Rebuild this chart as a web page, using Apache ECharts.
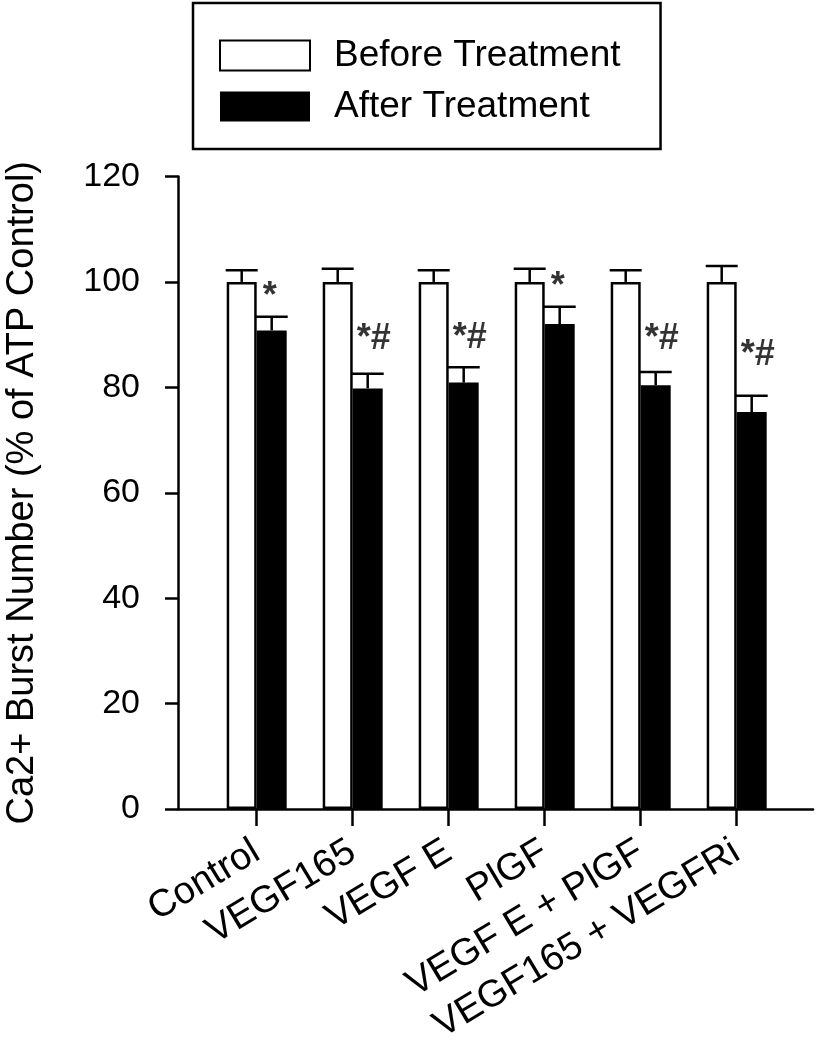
<!DOCTYPE html>
<html>
<head>
<meta charset="utf-8">
<script src="https://cdn.jsdelivr.net/npm/echarts@6/dist/echarts.min.js"></script>
<style>
  html, body { margin: 0; padding: 0; background: #fff; }
  #chart { width: 817px; height: 1050px; }
</style>
</head>
<body>
<div id="chart"></div>
<script>
// ---- data ----
const categories = ['Control', 'VEGF165', 'VEGF E', 'PlGF', 'VEGF E + PlGF', 'VEGF165 + VEGFRi'];
const beforeVals = [100, 100, 100, 100, 100, 100];
const afterVals  = [90.8, 79.8, 80.9, 92.0, 80.4, 75.3];
const beforeErr  = [2.2, 2.5, 2.2, 2.5, 2.2, 3.0];
const afterErr   = [2.6, 2.8, 2.9, 3.3, 2.5, 3.1];
const annotText  = ['*', '*#', '*#', '*', '*#', '*#'];
const annotY     = [97.2, 89.1, 89.3, 99.1, 89.1, 86.1];
const yMin = 0, yMax = 120, yStep = 20;
const seriesNames = ['Before Treatment', 'After Treatment'];

// ---- styling ----
const FONT = 'Liberation Sans, Arial, Helvetica, sans-serif';
const BAR_W = 30;
const CAP_HALF = 16;
const LINE_W = 2.5;
const GRID_TOP = 176.5, GRID_BOTTOM = 241;

const chart = echarts.init(document.getElementById('chart'), null, { renderer: 'canvas' });

function errorSeries(name, vals, errs, side) {
  return {
    name: name + ' err',
    type: 'custom',
    xAxisIndex: 1,
    yAxisIndex: 1,
    z: 5,
    silent: true,
    encode: { x: 0, y: 1 },
    data: vals.map((v, i) => [i, v, errs[i]]),
    renderItem: function (params, api) {
      const i = api.value(0), v = api.value(1), e = api.value(2);
      const p0 = api.coord([i, v]);
      const p1 = api.coord([i, v + e]);
      const x = p0[0] + side * BAR_W / 2;
      const st = { stroke: '#000', lineWidth: LINE_W };
      return {
        type: 'group',
        children: [
          { type: 'line', shape: { x1: x, y1: p0[1], x2: x, y2: p1[1] }, style: st },
          { type: 'line', shape: { x1: x - CAP_HALF, y1: p1[1], x2: x + CAP_HALF, y2: p1[1] }, style: st }
        ]
      };
    }
  };
}

const option = {
  animation: false,
  backgroundColor: '#fff',
  textStyle: { fontFamily: FONT, color: '#000' },
  legend: {
    data: seriesNames,
    orient: 'vertical',
    left: 193,
    top: 3,
    padding: [34, 40, 24, 26],
    itemWidth: 90,
    itemHeight: 30,
    itemGap: 14,
    icon: 'rect',
    borderColor: '#000',
    borderWidth: 2.5,
    backgroundColor: '#fff',
    textStyle: { fontFamily: FONT, fontSize: 37, color: '#000', lineHeight: 30, padding: [0, 0, 0, 19] },
    selectedMode: false
  },
  grid: [
    { left: 178, right: 4, top: GRID_TOP, bottom: GRID_BOTTOM, containLabel: false, outerBoundsMode: 'none' },
    { left: 208.7, width: 576, top: GRID_TOP, bottom: GRID_BOTTOM, containLabel: false, outerBoundsMode: 'none' }
  ],
  xAxis: [
    {
      gridIndex: 0, type: 'value', min: 0, max: 1,
      axisLine: { show: true, lineStyle: { color: '#000', width: LINE_W } },
      axisTick: { show: false }, axisLabel: { show: false }, splitLine: { show: false }
    },
    {
      gridIndex: 1, type: 'category', data: categories,
      axisLine: { show: false },
      axisTick: { show: true, alignWithLabel: true, inside: false, length: 17, lineStyle: { color: '#000', width: LINE_W } },
      axisLabel: { rotate: 31, margin: 40, fontSize: 38, fontFamily: FONT, color: '#000', interval: 0 },
      splitLine: { show: false }
    }
  ],
  yAxis: [
    {
      gridIndex: 0, type: 'value', min: yMin, max: yMax, interval: yStep,
      name: 'Ca2+ Burst Number (% of ATP Control)',
      nameLocation: 'middle', nameGap: 136, nameRotate: 90,
      nameTextStyle: { fontSize: 38, fontFamily: FONT, color: '#000' },
      axisLine: { show: true, lineStyle: { color: '#000', width: LINE_W } },
      axisTick: { show: true, inside: false, length: 13, lineStyle: { color: '#000', width: LINE_W } },
      axisLabel: { margin: 38, fontSize: 34, fontFamily: FONT, color: '#000' },
      splitLine: { show: false }
    },
    {
      gridIndex: 1, type: 'value', min: yMin, max: yMax, interval: yStep, show: false,
      splitLine: { show: false }
    }
  ],
  series: [
    {
      name: seriesNames[0], type: 'bar', xAxisIndex: 1, yAxisIndex: 1,
      data: beforeVals, barWidth: BAR_W, barGap: '0%',
      itemStyle: { color: '#fff', borderColor: '#000', borderWidth: 2.5 }
    },
    {
      name: seriesNames[1], type: 'bar', xAxisIndex: 1, yAxisIndex: 1,
      data: afterVals, barWidth: BAR_W, barGap: '0%',
      itemStyle: { color: '#000', borderColor: '#000', borderWidth: 0 }
    },
    errorSeries(seriesNames[0], beforeVals, beforeErr, -1),
    errorSeries(seriesNames[1], afterVals, afterErr, 1),
    {
      name: 'annotations', type: 'scatter', xAxisIndex: 1, yAxisIndex: 1,
      symbolSize: 1, itemStyle: { color: 'rgba(0,0,0,0)' }, silent: true, z: 6,
      data: annotY.map((y, i) => ({
        value: [i, y],
        label: {
          show: true, position: 'inside', formatter: annotText[i],
          offset: [BAR_W / 2 + (annotText[i].length > 1 ? 6 : -2), 0],
          fontSize: 36, fontWeight: 'bold', fontFamily: FONT, color: '#000'
        }
      }))
    }
  ]
};
chart.setOption(option);
</script>
</body>
</html>
